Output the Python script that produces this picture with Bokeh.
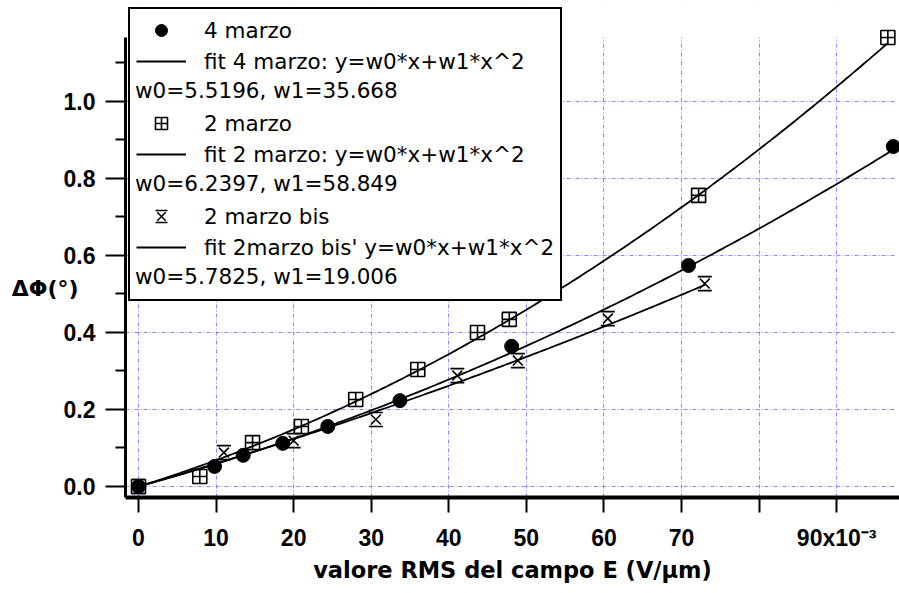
import numpy as np
from bokeh.plotting import figure
from bokeh.models import (Range1d, FixedTicker, Legend, LegendItem, LinearAxis,
                          BoxAnnotation, CustomJSTickFormatter, ColumnDataSource)
from bokeh.transform import dodge
from bokeh.embed import file_html
from bokeh.resources import INLINE

# RMS electric field (V/um) and measured phase shift (deg)
x_4marzo = [0.0, 0.0098, 0.0135, 0.0186, 0.0244, 0.0337, 0.0481, 0.0709, 0.0973]
y_4marzo = [0.0, 0.052, 0.081, 0.112, 0.156, 0.223, 0.364, 0.574, 0.883]

x_2marzo = [0.0, 0.0079, 0.0147, 0.0210, 0.0280, 0.0360, 0.0437, 0.0478, 0.0722, 0.0966]
y_2marzo = [0.0, 0.026, 0.114, 0.156, 0.226, 0.304, 0.400, 0.434, 0.756, 1.166]

x_2marzo_bis = [0.0, 0.0110, 0.0200, 0.0306, 0.0411, 0.0489, 0.0605, 0.0730]
y_2marzo_bis = [0.0, 0.088, 0.119, 0.174, 0.288, 0.327, 0.436, 0.527]

# quadratic fit coefficients: y = w0*x + w1*x^2
fit_4marzo = (5.5196, 35.668)
fit_2marzo = (6.2397, 58.849)
fit_2marzo_bis = (5.7825, 19.006)

x_ticks = [0.0, 0.01, 0.02, 0.03, 0.04, 0.05, 0.06, 0.07, 0.08, 0.09]
x_tick_labels = ["0", "10", "20", "30", "40", "50", "60", "70", "", "90x10\u207b\u00b3"]
y_ticks = [0.0, 0.2, 0.4, 0.6, 0.8, 1.0]
y_tick_labels = ["0.0", "0.2", "0.4", "0.6", "0.8", "1.0"]
y_minor_ticks = [0.1, 0.3, 0.5, 0.7, 0.9, 1.1]
y_title = "\u0394\u03a6(\u00b0)"

TICK_FONT = "Liberation Sans"
TEXT_FONT = "DejaVu Sans"

# axis extents of the drawn box (data units)
X_LO, X_BOX, X_HI = -0.001676, 0.0976, 0.0981
Y_LO, Y_BOX, Y_HI = -0.0286, 1.166, 1.2519

p = figure(width=899, height=593, output_backend="svg", toolbar_location=None,
           x_range=Range1d(X_LO, X_HI), y_range=Range1d(Y_LO, Y_HI),
           min_border_left=125, min_border_right=0, min_border_top=4,
           min_border_bottom=96)
p.outline_line_color = None
p.background_fill_color = "white"
p.border_fill_color = "white"

# grid
p.grid.grid_line_color = "#7676ff"
p.grid.grid_line_alpha = 0.85
p.grid.grid_line_width = 1
p.grid.grid_line_dash = "4 2 1 2"

# keep the grid inside the plotted box
for box in (BoxAnnotation(bottom=Y_BOX), BoxAnnotation(left=X_BOX)):
    box.fill_color = "white"
    box.fill_alpha = 1
    box.line_color = None
    box.level = "underlay"
    p.add_layout(box)

label_js = """
const i = ticks_ref.findIndex(t => Math.abs(t - tick) < 1e-9);
return i >= 0 ? labels[i] : "";
"""

# x axis
xa = p.xaxis[0]
xa.ticker = FixedTicker(ticks=x_ticks)
xa.formatter = CustomJSTickFormatter(args=dict(ticks_ref=x_ticks, labels=x_tick_labels),
                                     code=label_js)
xa.axis_line_width = 4
xa.major_tick_line_width = 2
xa.major_tick_out = 15
xa.major_tick_in = 0
xa.minor_tick_line_color = None
xa.major_label_standoff = 12
xa.major_label_text_font = TICK_FONT
xa.major_label_text_font_style = "bold"
xa.major_label_text_font_size = "23px"
xa.major_label_text_color = "black"
xa.axis_label = "valore RMS del campo E (V/\u00b5m)"
xa.axis_label_text_font = TEXT_FONT
xa.axis_label_text_font_style = "bold"
xa.axis_label_text_font_size = "22.5px"
xa.axis_label_text_color = "black"
xa.axis_label_standoff = 3

# y axis
ya = p.yaxis[0]
ya.bounds = (Y_LO, Y_BOX)
ya.ticker = FixedTicker(ticks=y_ticks, minor_ticks=y_minor_ticks)
ya.formatter = CustomJSTickFormatter(args=dict(ticks_ref=y_ticks, labels=y_tick_labels),
                                     code=label_js)
ya.axis_line_width = 3
ya.major_tick_line_width = 2
ya.major_tick_out = 20
ya.major_tick_in = 0
ya.minor_tick_line_width = 2
ya.minor_tick_line_color = "black"
ya.minor_tick_out = 10
ya.minor_tick_in = 0
ya.major_label_standoff = 10
ya.major_label_text_font = TICK_FONT
ya.major_label_text_font_style = "bold"
ya.major_label_text_font_size = "23px"
ya.major_label_text_color = "black"

# quantity name, set level with the space between 0.4 and 0.6
title_axis = LinearAxis(ticker=FixedTicker(ticks=[0.514]),
                        formatter=CustomJSTickFormatter(args=dict(t=y_title),
                                                        code="return t;"),
                        axis_line_color=None, major_tick_line_color=None,
                        minor_tick_line_color=None, major_tick_out=0,
                        major_tick_in=0, major_label_standoff=-18,
                        major_label_text_font=TEXT_FONT,
                        major_label_text_font_style="bold",
                        major_label_text_font_size="22px",
                        major_label_text_color="black")
p.add_layout(title_axis, "left")


def fit_curve(w, xs_data, n=200):
    xs = np.linspace(0.0, max(xs_data), n)
    return xs, w[0] * xs + w[1] * xs ** 2


fx1, fy1 = fit_curve(fit_4marzo, x_4marzo)
fx2, fy2 = fit_curve(fit_2marzo, x_2marzo)
fx3, fy3 = fit_curve(fit_2marzo_bis, x_2marzo_bis)

r_fit1 = p.line(fx1, fy1, line_color="black", line_width=1.8)
r_fit2 = p.line(fx2, fy2, line_color="black", line_width=1.8)
r_fit3 = p.line(fx3, fy3, line_color="black", line_width=1.8)

src_bis = ColumnDataSource(dict(x=x_2marzo_bis, y=y_2marzo_bis))


def hourglass(size, y_spec="y"):
    # diagonals from an "x", top/bottom bars from a square outline dashed by
    # its own side length
    rx = p.scatter("x", y_spec, source=src_bis, marker="x", size=size,
                   line_color="black", line_width=1.6)
    rb = p.scatter("x", y_spec, source=src_bis, marker="square", size=size,
                   fill_color=None, line_color="black", line_width=1.6,
                   line_dash=f"{size} {size}")
    return [rx, rb]


MS = 14
r_c = p.scatter(x_4marzo, y_4marzo, marker="circle", size=MS,
                fill_color="black", line_color="black", line_width=1)
r_s = p.scatter(x_2marzo, y_2marzo, marker="square_cross", size=MS,
                fill_color=None, line_color="black", line_width=1.6)
hourglass(MS)
# legend sample of the hourglass at the legend's symbol size; its copy of the
# points is shifted far above the visible range so only the legend shows it
leg_h = hourglass(12, y_spec=dodge("y", 100.0))
r_blank = p.line(x=[], y=[], line_alpha=0)


def coeff_text(w):
    return f"w0={w[0]}, w1={w[1]}"


rows = [
    ("4 marzo", [r_c], ""),
    ("fit 4 marzo: y=w0*x+w1*x^2", [r_fit1], ""),
    ("", [r_blank], coeff_text(fit_4marzo)),
    ("2 marzo", [r_s], ""),
    ("fit 2 marzo: y=w0*x+w1*x^2", [r_fit2], ""),
    ("", [r_blank], coeff_text(fit_2marzo)),
    ("2 marzo bis", leg_h, ""),
    ("fit 2marzo bis' y=w0*x+w1*x^2", [r_fit3], ""),
    ("", [r_blank], coeff_text(fit_2marzo_bis)),
]

common = dict(location="top_left", margin=3, padding=6,
              glyph_height=30, spacing=1,
              label_text_font=TEXT_FONT, label_text_font_size="21.5px",
              label_text_color="black")

legend = Legend(items=[LegendItem(label=t, renderers=r) for t, r, _ in rows],
                glyph_width=50, label_standoff=18,
                border_line_color="black", border_line_width=2, border_line_alpha=1,
                background_fill_color="white", background_fill_alpha=1,
                **common)
# second, transparent legend on top: fitted coefficients flush left in the
# rows left empty above (a border colour keeps its padding identical)
legend_coef = Legend(items=[LegendItem(label=c, renderers=[r_blank]) for _, _, c in rows],
                     glyph_width=0, label_standoff=1,
                     border_line_color="white", border_line_alpha=0,
                     border_line_width=2, background_fill_alpha=0,
                     **common)
p.add_layout(legend)
p.add_layout(legend_coef)

open("out.html", "w").write(file_html(p, INLINE))
